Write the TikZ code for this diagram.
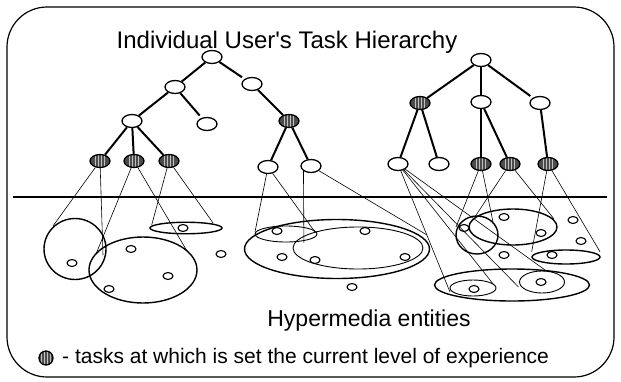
\documentclass[tikz,border=0pt]{standalone}
\usepackage{fontspec}
\setmainfont{Liberation Sans}[Ligatures=TeXOff]
\usetikzlibrary{shapes.geometric}
\begin{document}
\begin{tikzpicture}[x=1pt,y=-1pt,
  tnode/.style={ellipse, draw, line width=1.3pt, fill=white, minimum width=20pt, minimum height=13pt, inner sep=0pt},
  hnode/.style={tnode, fill=black!70, path picture={\foreach \dx in {-4.5,-1.5,1.5,4.5}{\draw[line width=1pt, white!75!black] ([xshift=\dx pt]path picture bounding box.north) -- ([xshift=\dx pt]path picture bounding box.south);}}},
  enode/.style={ellipse, draw, line width=1.1pt, fill=white, minimum width=10pt, minimum height=7pt, inner sep=0pt},
  tedge/.style={line width=2pt},
  conn/.style={line width=0.6pt},
  grp/.style={ellipse, draw, line width=1.4pt, inner sep=0pt},
  sub/.style={ellipse, draw, line width=0.9pt, inner sep=0pt},
  ttl/.style={font=\fontsize{24}{26}\selectfont, inner sep=0pt},
  lbl/.style={font=\fontsize{23}{25}\selectfont, inner sep=0pt},
  leg/.style={font=\fontsize{21}{23}\selectfont, inner sep=0pt}
]
\useasboundingbox (0,0) rectangle (621,381);
% frame
\draw[line width=1.2pt, rounded corners=40pt] (7,7) rectangle (614,377);
% texts
\node[ttl] (title) at (287,42) {Individual User's Task Hierarchy};
\node[lbl] (hyper) at (369,321) {Hypermedia entities};
\node[hnode, minimum width=14pt, minimum height=14pt] (legsym) at (46,358) {};
\node[leg, anchor=west] (legtxt) at (62,358) {- tasks at which is set the current level of experience};
% separator
\coordinate (hl) at (13,197);
\coordinate (hr) at (607,197);
\draw[line width=2pt] (hl) -- (hr);
% left tree
\node[tnode] (r1) at (212,57) {};
\node[tnode] (a1) at (175,87) {};
\node[tnode] (a2) at (252,84) {};
\node[tnode] (b1) at (132,121) {};
\node[tnode] (b2) at (207,124) {};
\node[hnode] (b3) at (289,121) {};
\node[hnode] (h1) at (100,161) {};
\node[hnode] (h2) at (134,161) {};
\node[hnode] (h3) at (169,161) {};
\node[tnode] (c1) at (268,167) {};
\node[tnode] (c2) at (311,166) {};
% right tree
\node[tnode] (r2) at (481,60) {};
\node[hnode] (ra) at (420,103) {};
\node[tnode] (rb) at (481,102) {};
\node[tnode] (rc) at (540,103) {};
\node[tnode] (n1) at (398,164) {};
\node[tnode] (n2) at (439,164) {};
\node[hnode] (n3) at (481,164) {};
\node[hnode] (n4) at (510,164) {};
\node[hnode] (n5) at (548,164) {};
% tree edges
\draw[tedge] (r1) -- (a1);
\draw[tedge, shorten >=3pt] (r1) -- (a2);
\draw[tedge] (a1) -- (b1);
\draw[tedge, shorten >=3pt] (a1) -- (b2);
\draw[tedge] (a2) -- (b3);
\draw[tedge] (b1) -- (h1);
\draw[tedge] (b1) -- (h2);
\draw[tedge] (b1) -- (h3);
\draw[tedge] (b3) -- (c1);
\draw[tedge] (b3) -- (c2);
\draw[tedge] (r2) -- (ra);
\draw[tedge] (r2) -- (rb);
\draw[tedge, shorten >=3pt] (r2) -- (rc);
\draw[tedge] (ra) -- (n1);
\draw[tedge] (ra) -- (n2);
\draw[tedge] (rb) -- (n3);
\draw[tedge] (rb) -- (n4);
\draw[tedge] (rc) -- (n5);
% groups of hypermedia entities
\node[grp, minimum width=62pt, minimum height=61pt] (C1) at (75,249) {};
\node[grp, minimum width=108pt, minimum height=66pt] (E1) at (143,270) {};
\node[grp, minimum width=72pt, minimum height=11.5pt] (E2) at (186,228) {};
\node[grp, minimum width=185pt, minimum height=59pt] (E3) at (337,249) {};
\node[sub, minimum width=62pt, minimum height=16pt] (I1) at (286,234) {};
\node[sub, minimum width=130pt, minimum height=42pt] (I2) at (358,248) {};
\node[grp, minimum width=42pt, minimum height=38pt] (C2) at (477,235) {};
\node[grp, minimum width=88pt, minimum height=36pt] (E4) at (513,227) {};
\node[grp, minimum width=68pt, minimum height=14pt] (F) at (566,257) {};
\node[grp, minimum width=155pt, minimum height=32pt] (E5) at (512,285) {};
\node[sub, minimum width=46pt, minimum height=16pt] (J1) at (473,288) {};
\node[sub, minimum width=45pt, minimum height=22pt] (J2) at (542,282) {};
% entities
\foreach \p [count=\i] in {(72,263),(131,249),(168,276),(109,289),(183,228),(221,254),
  (277,231),(282,257),(315,260),(365,231),(405,257),(352,287),
  (464,228),(504,217),(541,233),(504,255),(573,220),(581,241),(552,255),(474,289),(541,282)}
  \node[enode] (e\i) at \p {};
% connector ends
\coordinate (p1) at (53,226);   \coordinate (p2) at (103,255);
\coordinate (p3) at (96,254);   \coordinate (p4) at (187,251);
\coordinate (p5) at (151.7,225);\coordinate (p6) at (213.3,223.3);
\coordinate (p7) at (255,232);  \coordinate (p8) at (315,232);
\coordinate (p9) at (303.9,243);\coordinate (p10) at (427,235);
\coordinate (q1) at (450,292);  \coordinate (q2) at (494,285);
\coordinate (q3) at (518.5,287);\coordinate (q4) at (545,270);
\coordinate (q5) at (456,227);  \coordinate (q6) at (493,222);
\coordinate (q7) at (475,216.7);\coordinate (q8) at (554,219);
\coordinate (q9) at (531.7,251.7);\coordinate (q10) at (600,251.7);
% connectors
\draw[conn] (h1) -- (p1); \draw[conn] (h1) -- (p2);
\draw[conn] (h2) -- (p3); \draw[conn] (h2) -- (p4);
\draw[conn] (h3) -- (p5); \draw[conn] (h3) -- (p6);
\draw[conn] (c1) -- (p7); \draw[conn] (c1) -- (p8);
\draw[conn] (c2.south west) -- (p9); \draw[conn] (c2) -- (p10);
\draw[conn] (n1) -- (q1); \draw[conn] (n1) -- (q2);
\draw[conn] (n1) -- (q3); \draw[conn] (n1) -- (q4);
\draw[conn] (n3) -- (q5); \draw[conn] (n3) -- (q6);
\draw[conn] (n4) -- (q7); \draw[conn] (n4) -- (q8);
\draw[conn] (n5) -- (q9); \draw[conn] (n5) -- (q10);
\end{tikzpicture}
\end{document}
